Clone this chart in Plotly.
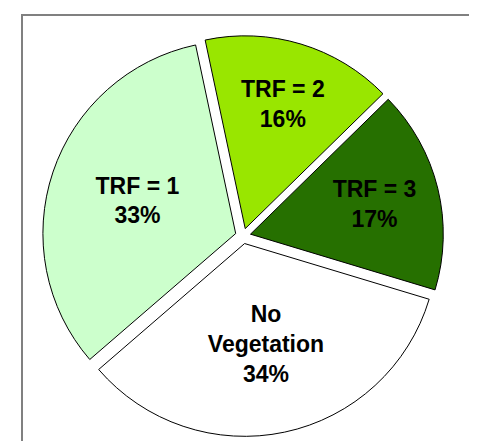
import plotly.graph_objects as go

labels = ["TRF = 2", "TRF = 3", "No<br>Vegetation", "TRF = 1"]
values = [16, 17, 34, 33]
colors = ["#99E600", "#267000", "#FFFFFF", "#CCFFCC"]

W, H = 477, 441

fig = go.Figure(go.Pie(
    labels=labels,
    values=values,
    sort=False,
    direction="clockwise",
    rotation=-12,
    pull=[0.04, 0.04, 0.04, 0.04],
    marker=dict(colors=colors, line=dict(color="#000000", width=1)),
    textinfo="label+percent",
    texttemplate="%{label}<br>%{percent:.0%}",
    textposition="inside",
    insidetextorientation="horizontal",
    textfont=dict(family="Liberation Sans, Arial, sans-serif", size=23, color="#000000", weight="bold"),
    hoverinfo="skip",
    showlegend=False,
    domain=dict(x=[34.5 / W, 435.5 / W], y=[1 - 428.5 / H, 1 - 27.5 / H]),
))

fig.update_layout(
    width=W, height=H,
    margin=dict(l=0, r=0, t=0, b=0),
    paper_bgcolor="#FFFFFF",
    plot_bgcolor="#FFFFFF",
    uniformtext=dict(minsize=23, mode="show"),
    shapes=[dict(type="rect", xref="paper", yref="paper",
                 x0=14 / W, x1=1.05, y0=-0.05, y1=1 - 7 / H,
                 line=dict(color="#808080", width=2), layer="below")],
)

fig.write_html("out.html")
